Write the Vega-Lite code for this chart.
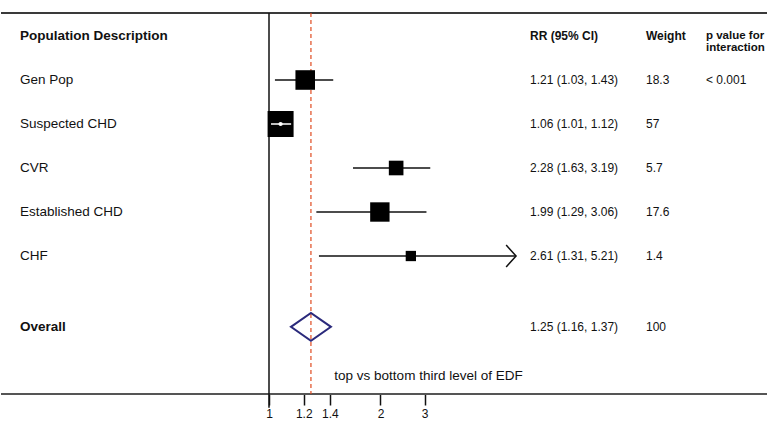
{
  "$schema": "https://vega.github.io/schema/vega-lite/v6.json",
  "padding": 0,
  "spacing": 0,
  "bounds": "flush",
  "config": {
    "view": {"stroke": null},
    "text": {"font": "Liberation Sans", "color": "#111", "baseline": "middle", "align": "left"}
  },
  "datasets": {
    "rows": [
      {"name": "Gen Pop", "row": 1, "est": 1.21, "lo": 1.03, "hi": 1.43, "rr": "1.21 (1.03, 1.43)", "w": 18.3, "p": "< 0.001", "kind": "study"},
      {"name": "Suspected CHD", "row": 2, "est": 1.06, "lo": 1.01, "hi": 1.12, "rr": "1.06 (1.01, 1.12)", "w": 57, "p": "", "kind": "study"},
      {"name": "CVR", "row": 3, "est": 2.28, "lo": 1.63, "hi": 3.19, "rr": "2.28 (1.63, 3.19)", "w": 5.7, "p": "", "kind": "study"},
      {"name": "Established CHD", "row": 4, "est": 1.99, "lo": 1.29, "hi": 3.06, "rr": "1.99 (1.29, 3.06)", "w": 17.6, "p": "", "kind": "study"},
      {"name": "CHF", "row": 5, "est": 2.61, "lo": 1.31, "hi": 5.21, "rr": "2.61 (1.31, 5.21)", "w": 1.4, "p": "", "kind": "study"},
      {"name": "Overall", "row": 6.61, "est": 1.25, "lo": 1.16, "hi": 1.37, "rr": "1.25 (1.16, 1.37)", "w": 100, "p": "", "kind": "overall"}
    ],
    "one": [{}]
  },
  "hconcat": [
    {
      "width": 268, "height": 394,
      "data": {"name": "rows"},
      "layer": [
        {"data": {"name": "one"}, "mark": {"type": "rule", "stroke": "#3a3a3a", "strokeWidth": 2},
         "encoding": {"y": {"datum": -0.523, "type": "quantitative", "scale": {"domain": [-0.818, 8.136], "reverse": true, "nice": false, "zero": false}, "axis": null}}},
        {"data": {"name": "one"}, "mark": {"type": "rule", "stroke": "#555", "strokeWidth": 2},
         "encoding": {"y": {"datum": 8.136, "type": "quantitative", "axis": null}}},
        {"data": {"name": "one"}, "mark": {"type": "text", "fontSize": 13.5, "fontWeight": "bold"},
         "encoding": {"x": {"value": 19}, "y": {"datum": 0, "type": "quantitative", "axis": null}, "text": {"value": "Population Description"}}},
        {"transform": [{"filter": "datum.kind === 'study'"}],
         "mark": {"type": "text", "fontSize": 13.5},
         "encoding": {"x": {"value": 19}, "y": {"field": "row", "type": "quantitative", "axis": null}, "text": {"field": "name", "type": "nominal"}}},
        {"transform": [{"filter": "datum.kind === 'overall'"}],
         "mark": {"type": "text", "fontSize": 13.5, "fontWeight": "bold"},
         "encoding": {"x": {"value": 19}, "y": {"field": "row", "type": "quantitative", "axis": null}, "text": {"field": "name", "type": "nominal"}}}
      ]
    },
    {
      "width": 261, "height": 394,
      "data": {"name": "rows"},
      "layer": [
        {"data": {"name": "one"}, "mark": {"type": "rule", "stroke": "#3a3a3a", "strokeWidth": 2},
         "encoding": {"y": {"datum": -0.523, "type": "quantitative", "scale": {"domain": [-0.818, 8.136], "reverse": true, "nice": false, "zero": false}, "axis": null}}},
        {"data": {"name": "one"}, "mark": {"type": "rule", "stroke": "#555", "strokeWidth": 2},
         "encoding": {"y": {"datum": 8.136, "type": "quantitative", "axis": null}}},
        {"data": {"name": "one"}, "mark": {"type": "rule", "stroke": "#111", "strokeWidth": 1.5},
         "encoding": {
           "x": {"datum": 1, "type": "quantitative",
                 "scale": {"type": "pow", "exponent": -0.7, "domain": [1, 26.8], "nice": false, "zero": false},
                 "axis": {"values": [1, 1.2, 1.4, 2, 3], "format": "~g", "title": null, "domain": false, "grid": false, "tickSize": 11, "tickWidth": 1.5, "tickColor": "#111", "labelPadding": 3, "labelFontSize": 12, "labelFont": "Liberation Sans", "labelColor": "#111", "labelFlush": false, "labelOverlap": false}},
           "y": {"datum": -0.523, "type": "quantitative", "axis": null},
           "y2": {"datum": 8.45}
         }},
        {"transform": [{"filter": "datum.kind === 'overall'"}],
         "mark": {"type": "rule", "stroke": "#e04a20", "strokeWidth": 1.2, "strokeDash": [4, 3]},
         "encoding": {
           "x": {"field": "est", "type": "quantitative", "title": null},
           "y": {"datum": -0.523, "type": "quantitative", "axis": null},
           "y2": {"datum": 8.136}
         }},
        {"transform": [{"filter": "datum.kind === 'study' && datum.hi < 5"}],
         "mark": {"type": "rule", "stroke": "#111", "strokeWidth": 1.5},
         "encoding": {
           "x": {"field": "lo", "type": "quantitative", "title": null},
           "x2": {"field": "hi"},
           "y": {"field": "row", "type": "quantitative", "axis": null}
         }},
        {"transform": [{"filter": "datum.kind === 'study' && datum.hi >= 5"}],
         "mark": {"type": "rule", "stroke": "#111", "strokeWidth": 1.5},
         "encoding": {
           "x": {"field": "lo", "type": "quantitative", "title": null},
           "x2": {"datum": 15.3},
           "y": {"field": "row", "type": "quantitative", "axis": null}
         }},
        {"transform": [{"filter": "datum.kind === 'study' && datum.hi >= 5"}],
         "mark": {"type": "point", "shape": "M-0.9,-1L0,0L-0.9,1", "filled": false, "stroke": "#111", "strokeWidth": 1.5, "size": 484, "opacity": 1},
         "encoding": {
           "x": {"datum": 15.3, "type": "quantitative"},
           "y": {"field": "row", "type": "quantitative", "axis": null}
         }},
        {"transform": [{"filter": "datum.kind === 'study'"}],
         "mark": {"type": "square", "color": "#000", "opacity": 1},
         "encoding": {
           "x": {"field": "est", "type": "quantitative", "title": null},
           "y": {"field": "row", "type": "quantitative", "axis": null},
           "size": {"field": "w", "type": "quantitative", "scale": {"type": "sqrt", "domain": [0, 57], "range": [0, 676]}, "legend": null}
         }},
        {"transform": [{"filter": "datum.name === 'Suspected CHD'"}],
         "mark": {"type": "rule", "stroke": "#fff", "strokeWidth": 1.5},
         "encoding": {
           "x": {"field": "lo", "type": "quantitative", "title": null},
           "x2": {"field": "hi"},
           "y": {"field": "row", "type": "quantitative", "axis": null}
         }},
        {"transform": [{"filter": "datum.name === 'Suspected CHD'"}],
         "mark": {"type": "circle", "color": "#fff", "opacity": 1, "size": 18},
         "encoding": {
           "x": {"field": "est", "type": "quantitative", "title": null},
           "y": {"field": "row", "type": "quantitative", "axis": null}
         }},
        {"transform": [{"filter": "datum.kind === 'overall'"}],
         "mark": {"type": "point", "shape": "M-1,0L0,-0.7L1,0L0,0.7Z", "filled": false, "stroke": "#2b2a7c", "strokeWidth": 2, "size": 1600, "opacity": 1},
         "encoding": {
           "x": {"field": "est", "type": "quantitative", "title": null},
           "y": {"field": "row", "type": "quantitative", "axis": null}
         }},
        {"data": {"name": "one"}, "mark": {"type": "text", "fontSize": 13.5},
         "encoding": {
           "x": {"datum": 1.44, "type": "quantitative"},
           "y": {"datum": 7.73, "type": "quantitative", "axis": null},
           "text": {"value": "top vs bottom third level of EDF"}
         }}
      ]
    },
    {
      "width": 116, "height": 394,
      "data": {"name": "rows"},
      "layer": [
        {"data": {"name": "one"}, "mark": {"type": "rule", "stroke": "#3a3a3a", "strokeWidth": 2},
         "encoding": {"y": {"datum": -0.523, "type": "quantitative", "scale": {"domain": [-0.818, 8.136], "reverse": true, "nice": false, "zero": false}, "axis": null}}},
        {"data": {"name": "one"}, "mark": {"type": "rule", "stroke": "#555", "strokeWidth": 2},
         "encoding": {"y": {"datum": 8.136, "type": "quantitative", "axis": null}}},
        {"data": {"name": "one"}, "mark": {"type": "text", "fontSize": 12, "fontWeight": "bold"},
         "encoding": {"x": {"value": 0}, "y": {"datum": 0, "type": "quantitative", "axis": null}, "text": {"value": "RR (95% CI)"}}},
        {"mark": {"type": "text", "fontSize": 12},
         "encoding": {"x": {"value": 0}, "y": {"field": "row", "type": "quantitative", "axis": null}, "text": {"field": "rr", "type": "nominal"}}}
      ]
    },
    {
      "width": 60, "height": 394,
      "data": {"name": "rows"},
      "layer": [
        {"data": {"name": "one"}, "mark": {"type": "rule", "stroke": "#3a3a3a", "strokeWidth": 2},
         "encoding": {"y": {"datum": -0.523, "type": "quantitative", "scale": {"domain": [-0.818, 8.136], "reverse": true, "nice": false, "zero": false}, "axis": null}}},
        {"data": {"name": "one"}, "mark": {"type": "rule", "stroke": "#555", "strokeWidth": 2},
         "encoding": {"y": {"datum": 8.136, "type": "quantitative", "axis": null}}},
        {"data": {"name": "one"}, "mark": {"type": "text", "fontSize": 12, "fontWeight": "bold"},
         "encoding": {"x": {"value": 0}, "y": {"datum": 0, "type": "quantitative", "axis": null}, "text": {"value": "Weight"}}},
        {"mark": {"type": "text", "fontSize": 12},
         "encoding": {"x": {"value": 0}, "y": {"field": "row", "type": "quantitative", "axis": null}, "text": {"field": "w", "type": "nominal"}}}
      ]
    },
    {
      "width": 62, "height": 394,
      "data": {"name": "rows"},
      "layer": [
        {"data": {"name": "one"}, "mark": {"type": "rule", "stroke": "#3a3a3a", "strokeWidth": 2},
         "encoding": {"y": {"datum": -0.523, "type": "quantitative", "scale": {"domain": [-0.818, 8.136], "reverse": true, "nice": false, "zero": false}, "axis": null}}},
        {"data": {"name": "one"}, "mark": {"type": "rule", "stroke": "#555", "strokeWidth": 2},
         "encoding": {"y": {"datum": 8.136, "type": "quantitative", "axis": null}}},
        {"data": {"name": "one"}, "mark": {"type": "text", "fontSize": 11.5, "fontWeight": "bold", "lineHeight": 12.5},
         "encoding": {"x": {"value": 0}, "y": {"datum": 0, "type": "quantitative", "axis": null}, "text": {"value": ["p value for", "interaction"]}}},
        {"mark": {"type": "text", "fontSize": 12},
         "encoding": {"x": {"value": 0}, "y": {"field": "row", "type": "quantitative", "axis": null}, "text": {"field": "p", "type": "nominal"}}}
      ]
    }
  ]
}
